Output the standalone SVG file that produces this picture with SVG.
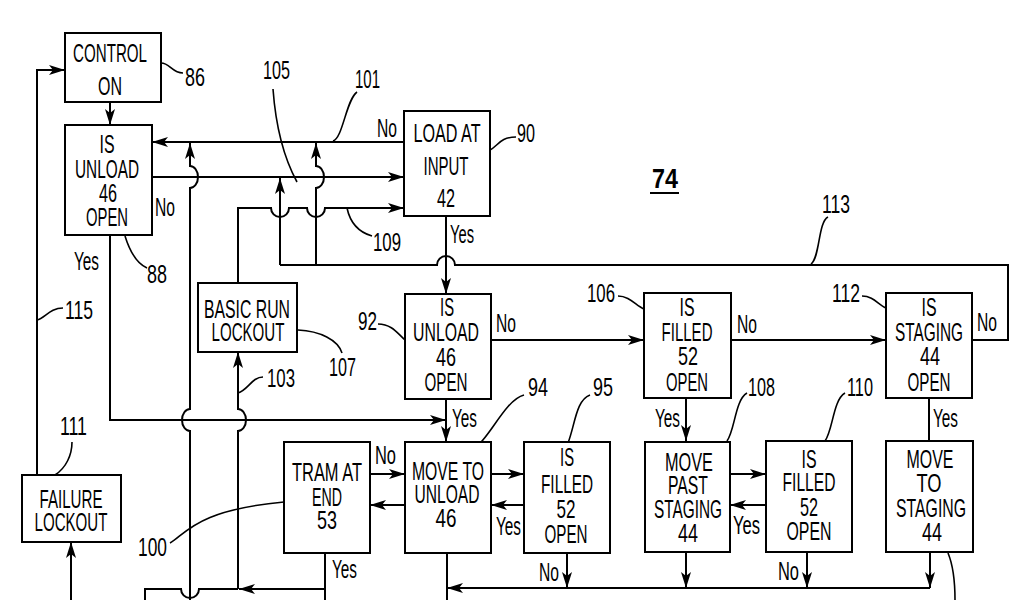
<svg xmlns="http://www.w3.org/2000/svg" width="1024" height="600" viewBox="0 0 1024 600">
<style>
.bg{fill:#fff}
.box{fill:#fff;stroke:#000;stroke-width:2}
.ln{fill:none;stroke:#000;stroke-width:2}
.ar{fill:none;stroke:#000;stroke-width:2;marker-end:url(#ah)}
.lead{fill:none;stroke:#000;stroke-width:1.6}
text{font-family:"Liberation Sans",Arial,sans-serif;font-size:26px;fill:#000}
.c{text-anchor:middle}
.big{font-size:28px;font-weight:bold}
</style>
<defs>
<marker id="ah" markerUnits="userSpaceOnUse" markerWidth="16" markerHeight="10" refX="16" refY="5" orient="auto" overflow="visible">
<path d="M0,0 L16,5 L0,10 L4,5 z" fill="#000"/>
</marker>
</defs>
<rect class="bg" x="0" y="0" width="1024" height="600"/>

<g id="connectors">
<path class="ar" d="M71,600 V542"/>
<path class="ar" d="M37,475 V70 H65"/>
<path class="ar" d="M110,102 V125"/>
<path class="ar" d="M110,235 V420 H446"/>
<path class="ar" d="M152,177 H404"/>
<path class="ar" d="M404,142 H152"/>
<path class="ar" d="M238,283 V208 H271 a9,9 0 0 0 18,0 H307 a9,9 0 0 0 18,0 H404"/>
<path class="ar" d="M190,600 V431 a8,11 0 0 1 0,-22 V188 a8,11 0 0 0 0,-22 V143"/>
<path class="ar" d="M238,589 V431 a8,11 0 0 0 0,-22 V352"/>
<path class="ln" d="M325,553 V600"/>
<path class="ar" d="M325,589 H239"/>
<path class="ln" d="M238,589 H199 a9,9 0 0 1 -18,0 H145 V600"/>
<path class="ln" d="M972,340 H1008 V265 H455 a9,9 0 0 0 -18,0 H280"/>
<path class="ar" d="M316,265 V188 a8,11 0 0 0 0,-22 V143"/>
<path class="ar" d="M280,265 V178"/>
<path class="ar" d="M446,216 V294"/>
<path class="ar" d="M491,340 H644"/>
<path class="ar" d="M731,340 H886"/>
<path class="ar" d="M446,399 V442"/>
<path class="ar" d="M686,398 V441"/>
<path class="ln" d="M929,398 V441"/>
<path class="ar" d="M370,474 H405"/>
<path class="ar" d="M405,505 H370"/>
<path class="ar" d="M491,474 H524"/>
<path class="ar" d="M524,505 H491"/>
<path class="ar" d="M730,474 H766"/>
<path class="ar" d="M766,505 H730"/>
<path class="ar" d="M567,553 V588"/>
<path class="ar" d="M686,552 V588"/>
<path class="ar" d="M807,552 V588"/>
<path class="ar" d="M930,552 V588"/>
<path class="ar" d="M930,588 H447"/>
<path class="ln" d="M447,553 V600"/>
</g>

<g id="leaders">
<path class="lead" d="M161,63 C170,63 172,73 183,73"/>
<path class="lead" d="M125,236 C130,252 138,264 147,268"/>
<path class="lead" d="M273,89 C276,130 285,160 297,182"/>
<path class="lead" d="M333,141 C343,138 346,100 357,92"/>
<path class="lead" d="M490,150 C498,146 500,137 516,137"/>
<path class="lead" d="M347,208 C350,222 358,232 372,236"/>
<path class="lead" d="M811,264 C820,258 818,222 828,217"/>
<path class="lead" d="M618,296 C630,296 636,306 644,309"/>
<path class="lead" d="M862,296 C874,296 878,305 886,308"/>
<path class="lead" d="M378,324 C392,324 398,334 405,340"/>
<path class="lead" d="M473,450 C490,438 505,400 524,395"/>
<path class="lead" d="M568,443 C575,425 576,400 590,395"/>
<path class="lead" d="M727,441 C735,430 735,400 747,393"/>
<path class="lead" d="M825,441 C833,430 833,400 845,393"/>
<path class="lead" d="M298,330 C320,331 338,340 342,353"/>
<path class="lead" d="M238,393 C248,390 252,377 263,377"/>
<path class="lead" d="M37,320 C45,318 50,308 63,308"/>
<path class="lead" d="M55,475 C66,468 72,455 72,442"/>
<path class="lead" d="M170,543 C185,535 195,510 284,502"/>
<path class="lead" d="M948,553 C953,565 955,585 955,600"/>
</g>

<g id="n86">
<rect class="box" x="65" y="33" width="96" height="69"/>
<text class="c" transform="matrix(0.6,0,0,1,110,62)" textLength="123.3" lengthAdjust="spacingAndGlyphs">CONTROL</text>
<text class="c" transform="matrix(0.6,0,0,1,110,95)" textLength="40" lengthAdjust="spacingAndGlyphs">ON</text>
</g>
<g id="n88">
<rect class="box" x="65" y="125" width="87" height="110"/>
<text class="c" transform="matrix(0.6,0,0,1,107,153)" textLength="25" lengthAdjust="spacingAndGlyphs">IS</text>
<text class="c" transform="matrix(0.6,0,0,1,107,178)" textLength="106.7" lengthAdjust="spacingAndGlyphs">UNLOAD</text>
<text class="c" transform="matrix(0.6,0,0,1,108,202)" textLength="30" lengthAdjust="spacingAndGlyphs">46</text>
<text class="c" transform="matrix(0.6,0,0,1,107,226)" textLength="70" lengthAdjust="spacingAndGlyphs">OPEN</text>
</g>
<g id="n90">
<rect class="box" x="404" y="111" width="86" height="105"/>
<text class="c" transform="matrix(0.6,0,0,1,447,142)" textLength="111.7" lengthAdjust="spacingAndGlyphs">LOAD AT</text>
<text class="c" transform="matrix(0.6,0,0,1,446,175)" textLength="75" lengthAdjust="spacingAndGlyphs">INPUT</text>
<text class="c" transform="matrix(0.6,0,0,1,446,207)" textLength="30" lengthAdjust="spacingAndGlyphs">42</text>
</g>
<g id="n107">
<rect class="box" x="198" y="283" width="99" height="69"/>
<text class="c" transform="matrix(0.6,0,0,1,247,318)" textLength="143.3" lengthAdjust="spacingAndGlyphs">BASIC RUN</text>
<text class="c" transform="matrix(0.6,0,0,1,248,341)" textLength="121.7" lengthAdjust="spacingAndGlyphs">LOCKOUT</text>
</g>
<g id="n92">
<rect class="box" x="405" y="294" width="86" height="105"/>
<text class="c" transform="matrix(0.6,0,0,1,447,316)" textLength="23.3" lengthAdjust="spacingAndGlyphs">IS</text>
<text class="c" transform="matrix(0.6,0,0,1,446,341)" textLength="110" lengthAdjust="spacingAndGlyphs">UNLOAD</text>
<text class="c" transform="matrix(0.6,0,0,1,446,366)" textLength="33.3" lengthAdjust="spacingAndGlyphs">46</text>
<text class="c" transform="matrix(0.6,0,0,1,446,391)" textLength="71.7" lengthAdjust="spacingAndGlyphs">OPEN</text>
</g>
<g id="n106">
<rect class="box" x="644" y="293" width="87" height="105"/>
<text class="c" transform="matrix(0.6,0,0,1,687,316)" textLength="25" lengthAdjust="spacingAndGlyphs">IS</text>
<text class="c" transform="matrix(0.6,0,0,1,687,341)" textLength="85" lengthAdjust="spacingAndGlyphs">FILLED</text>
<text class="c" transform="matrix(0.6,0,0,1,688,365)" textLength="33.3" lengthAdjust="spacingAndGlyphs">52</text>
<text class="c" transform="matrix(0.6,0,0,1,687,391)" textLength="70" lengthAdjust="spacingAndGlyphs">OPEN</text>
</g>
<g id="n112">
<rect class="box" x="886" y="293" width="86" height="105"/>
<text class="c" transform="matrix(0.6,0,0,1,929,316)" textLength="25" lengthAdjust="spacingAndGlyphs">IS</text>
<text class="c" transform="matrix(0.6,0,0,1,929,341)" textLength="113.3" lengthAdjust="spacingAndGlyphs">STAGING</text>
<text class="c" transform="matrix(0.6,0,0,1,930,365)" textLength="33.3" lengthAdjust="spacingAndGlyphs">44</text>
<text class="c" transform="matrix(0.6,0,0,1,929,391)" textLength="71.7" lengthAdjust="spacingAndGlyphs">OPEN</text>
</g>
<g id="n111">
<rect class="box" x="22" y="475" width="99" height="67"/>
<text class="c" transform="matrix(0.6,0,0,1,71,508)" textLength="105" lengthAdjust="spacingAndGlyphs">FAILURE</text>
<text class="c" transform="matrix(0.6,0,0,1,71,531)" textLength="121.7" lengthAdjust="spacingAndGlyphs">LOCKOUT</text>
</g>
<g id="n100">
<rect class="box" x="284" y="442" width="86" height="111"/>
<text class="c" transform="matrix(0.6,0,0,1,327,481)" textLength="116.7" lengthAdjust="spacingAndGlyphs">TRAM AT</text>
<text class="c" transform="matrix(0.6,0,0,1,327,506)" textLength="50" lengthAdjust="spacingAndGlyphs">END</text>
<text class="c" transform="matrix(0.6,0,0,1,327,529)" textLength="33.3" lengthAdjust="spacingAndGlyphs">53</text>
</g>
<g id="n94">
<rect class="box" x="405" y="442" width="86" height="111"/>
<text class="c" transform="matrix(0.6,0,0,1,448,480)" textLength="120" lengthAdjust="spacingAndGlyphs">MOVE TO</text>
<text class="c" transform="matrix(0.6,0,0,1,447,503)" textLength="108.3" lengthAdjust="spacingAndGlyphs">UNLOAD</text>
<text class="c" transform="matrix(0.6,0,0,1,446,527)" textLength="35" lengthAdjust="spacingAndGlyphs">46</text>
</g>
<g id="n95">
<rect class="box" x="524" y="442" width="86" height="111"/>
<text class="c" transform="matrix(0.6,0,0,1,567,466)" textLength="23.3" lengthAdjust="spacingAndGlyphs">IS</text>
<text class="c" transform="matrix(0.6,0,0,1,567,493)" textLength="86.7" lengthAdjust="spacingAndGlyphs">FILLED</text>
<text class="c" transform="matrix(0.6,0,0,1,566,518)" textLength="31.7" lengthAdjust="spacingAndGlyphs">52</text>
<text class="c" transform="matrix(0.6,0,0,1,566,543)" textLength="71.7" lengthAdjust="spacingAndGlyphs">OPEN</text>
</g>
<g id="n108">
<rect class="box" x="645" y="442" width="85" height="110"/>
<text class="c" transform="matrix(0.6,0,0,1,689,471)" textLength="80" lengthAdjust="spacingAndGlyphs">MOVE</text>
<text class="c" transform="matrix(0.6,0,0,1,688,494)" textLength="66.7" lengthAdjust="spacingAndGlyphs">PAST</text>
<text class="c" transform="matrix(0.6,0,0,1,688,518)" textLength="113.3" lengthAdjust="spacingAndGlyphs">STAGING</text>
<text class="c" transform="matrix(0.6,0,0,1,688,542)" textLength="33.3" lengthAdjust="spacingAndGlyphs">44</text>
</g>
<g id="n110">
<rect class="box" x="766" y="441" width="86" height="111"/>
<text class="c" transform="matrix(0.6,0,0,1,809,468)" textLength="25" lengthAdjust="spacingAndGlyphs">IS</text>
<text class="c" transform="matrix(0.6,0,0,1,809,491)" textLength="88.3" lengthAdjust="spacingAndGlyphs">FILLED</text>
<text class="c" transform="matrix(0.6,0,0,1,809,516)" textLength="30" lengthAdjust="spacingAndGlyphs">52</text>
<text class="c" transform="matrix(0.6,0,0,1,809,540)" textLength="75" lengthAdjust="spacingAndGlyphs">OPEN</text>
</g>
<g id="n-move-staging">
<rect class="box" x="886" y="441" width="87" height="111"/>
<text class="c" transform="matrix(0.6,0,0,1,930,468)" textLength="78.3" lengthAdjust="spacingAndGlyphs">MOVE</text>
<text class="c" transform="matrix(0.6,0,0,1,929,492)" textLength="41.7" lengthAdjust="spacingAndGlyphs">TO</text>
<text class="c" transform="matrix(0.6,0,0,1,931,517)" textLength="116.7" lengthAdjust="spacingAndGlyphs">STAGING</text>
<text class="c" transform="matrix(0.6,0,0,1,932,541)" textLength="33.3" lengthAdjust="spacingAndGlyphs">44</text>
</g>

<g id="labels">
<text transform="matrix(0.6,0,0,1,185,86)" textLength="33.3" lengthAdjust="spacingAndGlyphs">86</text>
<text transform="matrix(0.6,0,0,1,147,283)" textLength="33.3" lengthAdjust="spacingAndGlyphs">88</text>
<text transform="matrix(0.6,0,0,1,263,79)" textLength="45" lengthAdjust="spacingAndGlyphs">105</text>
<text transform="matrix(0.6,0,0,1,355,88)" textLength="41.7" lengthAdjust="spacingAndGlyphs">101</text>
<text transform="matrix(0.6,0,0,1,377,137)" textLength="33.3" lengthAdjust="spacingAndGlyphs">No</text>
<text transform="matrix(0.6,0,0,1,517,142)" textLength="30" lengthAdjust="spacingAndGlyphs">90</text>
<text transform="matrix(0.6,0,0,1,450,243)" textLength="40" lengthAdjust="spacingAndGlyphs">Yes</text>
<text transform="matrix(0.6,0,0,1,373,251)" textLength="46.7" lengthAdjust="spacingAndGlyphs">109</text>
<text class="big" transform="matrix(0.8,0,0,1,652,188)" textLength="32.5" lengthAdjust="spacingAndGlyphs">74</text>
<path class="ln" d="M650,193 H679"/>
<text transform="matrix(0.6,0,0,1,822,213)" textLength="46.7" lengthAdjust="spacingAndGlyphs">113</text>
<text transform="matrix(0.6,0,0,1,587,302)" textLength="46.7" lengthAdjust="spacingAndGlyphs">106</text>
<text transform="matrix(0.6,0,0,1,832,302)" textLength="46.7" lengthAdjust="spacingAndGlyphs">112</text>
<text transform="matrix(0.6,0,0,1,737,333)" textLength="33.3" lengthAdjust="spacingAndGlyphs">No</text>
<text transform="matrix(0.6,0,0,1,977,331)" textLength="33.3" lengthAdjust="spacingAndGlyphs">No</text>
<text transform="matrix(0.6,0,0,1,496,332)" textLength="33.3" lengthAdjust="spacingAndGlyphs">No</text>
<text transform="matrix(0.6,0,0,1,155,216)" textLength="33.3" lengthAdjust="spacingAndGlyphs">No</text>
<text transform="matrix(0.6,0,0,1,74,270)" textLength="41.7" lengthAdjust="spacingAndGlyphs">Yes</text>
<text transform="matrix(0.6,0,0,1,358,330)" textLength="31.7" lengthAdjust="spacingAndGlyphs">92</text>
<text transform="matrix(0.6,0,0,1,375,464)" textLength="35" lengthAdjust="spacingAndGlyphs">No</text>
<text transform="matrix(0.6,0,0,1,496,535)" textLength="41.7" lengthAdjust="spacingAndGlyphs">Yes</text>
<text transform="matrix(0.6,0,0,1,528,396)" textLength="33.3" lengthAdjust="spacingAndGlyphs">94</text>
<text transform="matrix(0.6,0,0,1,593,396)" textLength="33.3" lengthAdjust="spacingAndGlyphs">95</text>
<text transform="matrix(0.6,0,0,1,733,534)" textLength="45" lengthAdjust="spacingAndGlyphs">Yes</text>
<text transform="matrix(0.6,0,0,1,778,580)" textLength="35" lengthAdjust="spacingAndGlyphs">No</text>
<text transform="matrix(0.6,0,0,1,539,581)" textLength="33.3" lengthAdjust="spacingAndGlyphs">No</text>
<text transform="matrix(0.6,0,0,1,933,427)" textLength="41.7" lengthAdjust="spacingAndGlyphs">Yes</text>
<text transform="matrix(0.6,0,0,1,655,427)" textLength="41.7" lengthAdjust="spacingAndGlyphs">Yes</text>
<text transform="matrix(0.6,0,0,1,452,427)" textLength="41.7" lengthAdjust="spacingAndGlyphs">Yes</text>
<text transform="matrix(0.6,0,0,1,748,396)" textLength="45" lengthAdjust="spacingAndGlyphs">108</text>
<text transform="matrix(0.6,0,0,1,847,396)" textLength="43.3" lengthAdjust="spacingAndGlyphs">110</text>
<text transform="matrix(0.6,0,0,1,332,578)" textLength="41.7" lengthAdjust="spacingAndGlyphs">Yes</text>
<text transform="matrix(0.6,0,0,1,138,556)" textLength="48.3" lengthAdjust="spacingAndGlyphs">100</text>
<text transform="matrix(0.6,0,0,1,329,376)" textLength="45" lengthAdjust="spacingAndGlyphs">107</text>
<text transform="matrix(0.6,0,0,1,267,387)" textLength="46.7" lengthAdjust="spacingAndGlyphs">103</text>
<text transform="matrix(0.6,0,0,1,60,435)" textLength="45" lengthAdjust="spacingAndGlyphs">111</text>
<text transform="matrix(0.6,0,0,1,65,319)" textLength="46.7" lengthAdjust="spacingAndGlyphs">115</text>
</g>
</svg>
